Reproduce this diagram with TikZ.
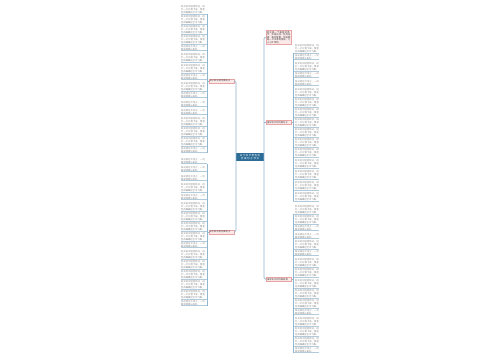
\documentclass[tikz,border=0pt]{standalone}
\usepackage{fontspec}
\newfontfamily\cjk{Noto Sans CJK SC}
\XeTeXlinebreaklocale "zh"
\XeTeXlinebreakskip=0pt plus 1pt
\definecolor{lnc}{HTML}{8FB5CF}
\definecolor{ctr}{HTML}{2D6C97}
\definecolor{pkf}{HTML}{FCEAEA}
\definecolor{pkd}{HTML}{E8A3A3}
\definecolor{lfc}{HTML}{858585}
\newcommand\sA{阳光洒在大地上，一切都显得那么美好。}
\newcommand\sB{秋天的风轻轻吹过，树叶一片片落下来，像金色的蝴蝶在空中飞舞。}
\tikzset{
  leaf/.style={anchor=north west, inner sep=0pt, text width=24pt, align=left,
    font=\cjk\fontsize{2.3}{3.1}\selectfont, text=lfc},
  conn/.style={draw=lnc, line width=0.7pt, rounded corners=1.5pt},
  tick/.style={draw=lnc!70, line width=0.3pt},
  topic/.style={draw=pkd, fill=pkf, line width=0.4pt, inner sep=0.9pt,
    font=\cjk\fontsize{2.3}{2.5}\selectfont, text=black!75, text width=23.5pt,
    align=left, anchor=north west},
  central/.style={fill=ctr, text=white, inner sep=1.4pt, text width=25pt,
    align=center, font=\cjk\fontsize{2.5}{3}\selectfont}
}
\begin{document}
\begin{tikzpicture}[x=1pt,y=-1pt]
\useasboundingbox[fill=white] (0,0) rectangle (500,360);
\coordinate (busA) at (207,0);
\coordinate (busB) at (293,0);
\coordinate (trunkL) at (236,0);
\coordinate (trunkR) at (264,0);
% central
\node[central] (c) at (250,157) {关于秋天景色的优美句子作文};
% topics
\node[topic] (L1) at (208.5,78.8) {关于秋天的优美句子};
\node[topic] (L2) at (208.5,229.8) {关于秋天的优美句子};
\node[topic] (R1) at (266,30) {秋天是一个美丽的季节，天高云淡，秋风送爽，果实累累，到处都是一片丰收的景象，让人心旷神怡。};
\node[topic] (R2) at (266,120) {描写秋天的优美句子};
\node[topic] (R3) at (266,277) {描写秋天的优美段落};
% trunks
\draw[conn] (R1.west) -- (R1.west -| trunkR) -- (R3.west -| trunkR) -- (R3.west);
\draw[conn] (L1.east) -- (L1.east -| trunkL) -- (L2.east -| trunkL) -- (L2.east);
\draw[conn] (R2.west -| trunkR) -- (R2.west);
% left group 1
\foreach \y/\t [count=\i] in {5/\sB,15/\sB,25/\sB,35/\sB,45/\sA,53/\sB,64/\sB,74/\sA,82/\sB,92/\sA,101/\sA,109/\sA,117/\sB,127/\sB,137/\sB,147/\sA}{
  \node[leaf] (a\i) at (181,\y) {\t};
  \draw[tick] (a\i.south west) -- (a\i.south west -| busA);
}
\draw[conn] (a1.south west -| busA) -- (a16.south west -| busA);
\draw[conn] (L1.west) -- (L1.west -| busA);
% left group 2
\foreach \y/\t [count=\i] in {158/\sA,166/\sA,175/\sA,183/\sB,194/\sA,202/\sB,212/\sB,222/\sB,232/\sB,242/\sA,250/\sB,260/\sB,270/\sB,280/\sB,290/\sB,300/\sA}{
  \node[leaf] (b\i) at (181,\y) {\t};
  \draw[tick] (b\i.south west) -- (b\i.south west -| busA);
}
\draw[conn] (b1.south west -| busA) -- (b16.south west -| busA);
\draw[conn] (L2.west) -- (L2.west -| busA);
% right group 2
\foreach \y/\t [count=\i] in {44/\sB,54/\sA,62/\sB,72/\sA,80/\sA,88/\sB,98/\sB,108/\sB,118/\sB,128/\sB,138/\sB,148/\sB,159/\sB,170/\sB,181/\sB,192/\sB}{
  \node[leaf] (d\i) at (295,\y) {\t};
  \draw[tick] (d\i.south west -| busB) -- (d\i.south east);
}
\draw[conn] (d1.south west -| busB) -- (d16.south west -| busB);
\draw[conn] (R2.east) -- (R2.east -| busB);
% right group 3
\foreach \y/\t [count=\i] in {205/\sB,215/\sB,225/\sA,233/\sA,240/\sB,250/\sA,258/\sB,268/\sB,279/\sB,289/\sB,299/\sB,309/\sA,317/\sB,327/\sB,337/\sB,347/\sA}{
  \node[leaf] (e\i) at (295,\y) {\t};
  \draw[tick] (e\i.south west -| busB) -- (e\i.south east);
}
\draw[conn] (e1.south west -| busB) -- (e16.south west -| busB);
\draw[conn] (R3.east) -- (R3.east -| busB);
\end{tikzpicture}
\end{document}
